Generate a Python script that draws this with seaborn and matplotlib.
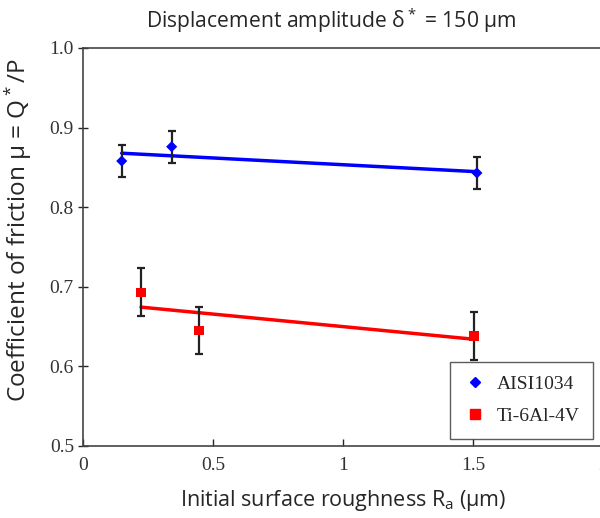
import numpy as np
import pandas as pd
import matplotlib
matplotlib.use('Agg')
import matplotlib.pyplot as plt
import seaborn as sns
from matplotlib.lines import Line2D

# values
steel_ra = [0.149, 0.341, 1.515]
steel_mu = [0.858, 0.876, 0.843]
steel_err = [0.020, 0.020, 0.020]

ti_ra = [0.223, 0.446, 1.504]
ti_mu = [0.693, 0.645, 0.638]
ti_err = [0.030, 0.030, 0.030]

x_ticks = [0, 0.5, 1, 1.5, 2]
x_tick_labels = ['0', '0.5', '1', '1.5', '2']
y_ticks = [0.5, 0.6, 0.7, 0.8, 0.9, 1.0]

df = pd.concat([
    pd.DataFrame({'Ra': steel_ra, 'mu': steel_mu, 'err': steel_err, 'material': 'AISI1034'}),
    pd.DataFrame({'Ra': ti_ra, 'mu': ti_mu, 'err': ti_err, 'material': 'Ti-6Al-4V'}),
], ignore_index=True)

sns.set_style('ticks')
serif = ['Liberation Serif', 'DejaVu Serif']
sans = ['Open Sans', 'DejaVu Sans']
plt.rcParams['mathtext.fontset'] = 'custom'
plt.rcParams['mathtext.rm'] = 'Open Sans'
plt.rcParams['mathtext.it'] = 'Open Sans'

fig = plt.figure(figsize=(6.0, 5.18), dpi=100)
ax = fig.add_axes([83 / 600, 72 / 518, 520 / 600, 398 / 518])

colors = {'AISI1034': '#0000ff', 'Ti-6Al-4V': '#ff0000'}
markers = {'AISI1034': 'D', 'Ti-6Al-4V': 's'}
sizes = {'AISI1034': 32, 'Ti-6Al-4V': 48}

for mat, sub in df.groupby('material'):
    # least-squares trend line
    sns.regplot(data=sub, x='Ra', y='mu', scatter=False, ci=None, ax=ax,
                color=colors[mat], line_kws={'lw': 2.5, 'zorder': 2})
    ax.errorbar(sub['Ra'], sub['mu'], yerr=sub['err'], fmt='none', ecolor='#222222',
                elinewidth=1.6, capsize=3, capthick=1.6, zorder=3)

sns.scatterplot(data=df, x='Ra', y='mu', hue='material', style='material',
                palette=colors, markers=markers, size='material', sizes=sizes,
                edgecolor='none', ax=ax, zorder=4, legend=False)

ax.set_xlim(0, 2)
ax.set_ylim(0.5, 1.0)
ax.set_xticks(x_ticks)
ax.set_xticklabels(x_tick_labels)
ax.set_yticks(y_ticks)
ax.set_yticklabels([f'{v:.1f}' for v in y_ticks])
for lab in ax.get_xticklabels() + ax.get_yticklabels():
    lab.set_family(serif)
    lab.set_fontsize(14)
    lab.set_color('#333333')
ax.tick_params(axis='x', direction='in', length=5, width=1, pad=8)
ax.tick_params(axis='y', direction='inout', length=7, width=1, pad=3)
for sp in ax.spines.values():
    sp.set_linewidth(1.2)
    sp.set_color('#444444')

ax.set_xlabel('Initial surface roughness R$_\\mathrm{a}$ (µm)', family=sans, fontsize=15.5, labelpad=10)
ax.set_ylabel('Coefficient of friction μ = Q$^*$/P', family=sans, fontsize=17.5)
ax.yaxis.set_label_coords(-0.094, 0.543)
fig.text(331 / 600, 0.961, 'Displacement amplitude δ$^*$ = 150 µm', ha='center', va='center',
         family=sans, fontsize=15.2)

handles = [Line2D([], [], ls='none', marker=markers[m], color=colors[m],
                  markersize=5.5 if m == 'AISI1034' else 7) for m in colors]
leg = ax.legend(handles, list(colors), loc='lower right', bbox_to_anchor=(0.981, 0.018),
                prop={'family': serif, 'size': 14}, frameon=True, fancybox=False,
                edgecolor='#333333', handletextpad=0.5, borderpad=0.7, labelspacing=0.75,
                handlelength=1.2, borderaxespad=0)
leg.get_frame().set_linewidth(1.0)

fig.savefig('out.png', dpi=100)
